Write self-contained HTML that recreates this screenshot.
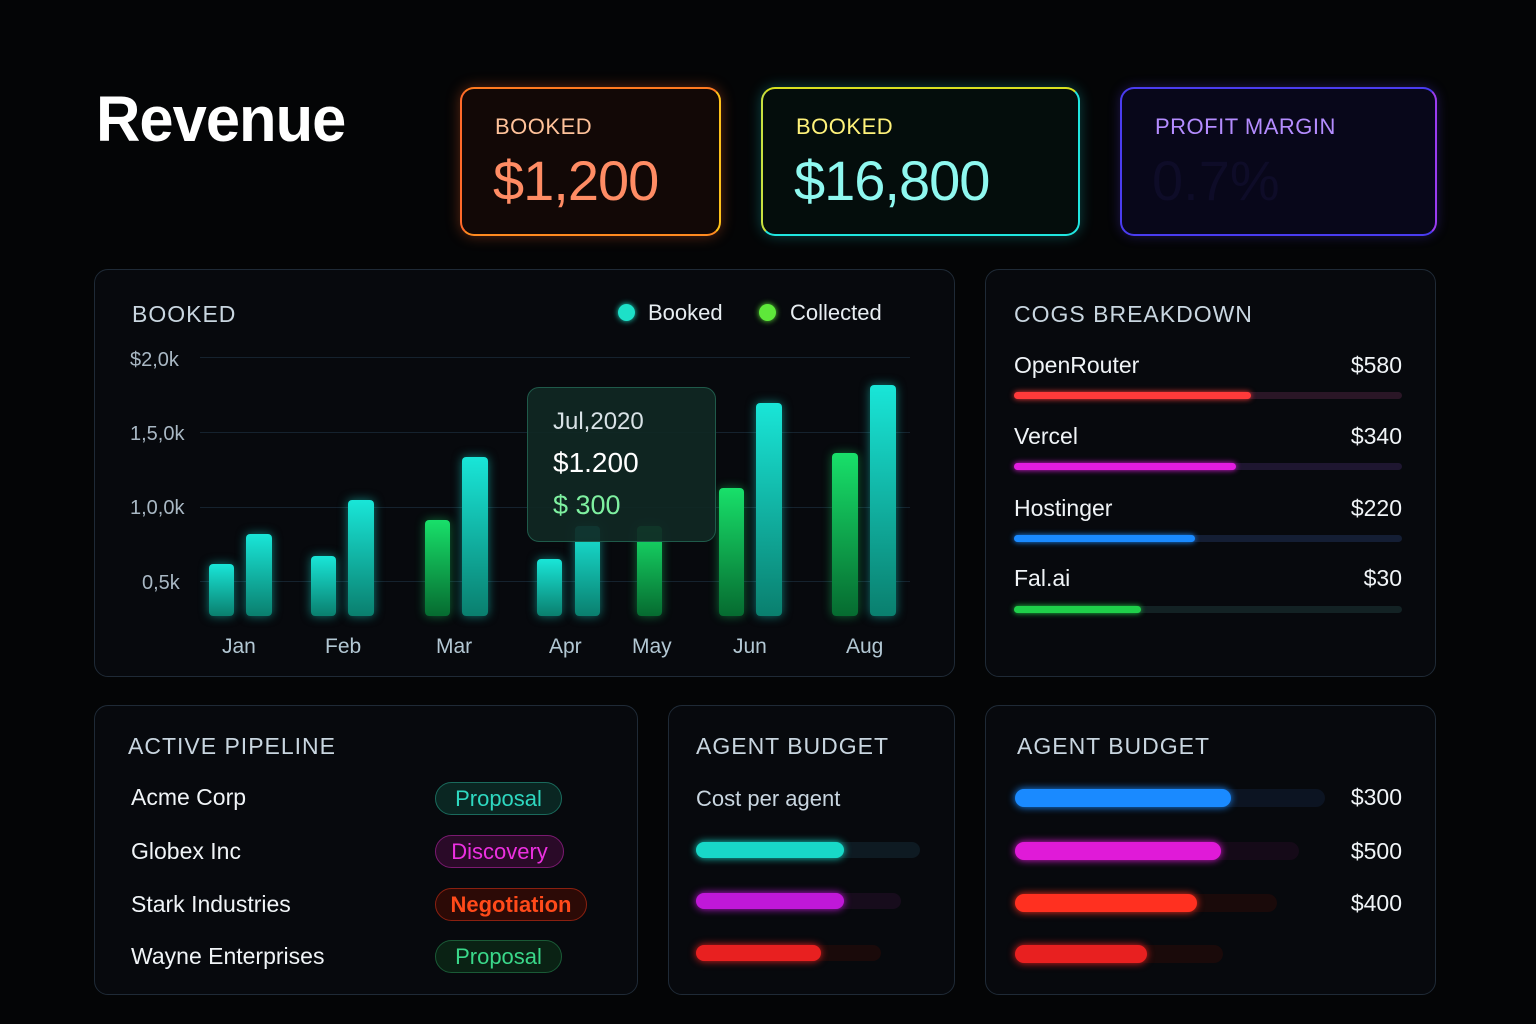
<!DOCTYPE html>
<html><head><meta charset="utf-8"><style>
*{margin:0;padding:0;box-sizing:border-box}
body{width:1536px;height:1024px;background:#040506;font-family:"Liberation Sans",sans-serif;position:relative;overflow:hidden;color:#e8eef2}
.a{position:absolute}
.panel{position:absolute;border:1.5px solid #1f2a36;border-radius:14px;background:#07090d}
.t{position:absolute;font-size:23px;letter-spacing:1px;color:#c9d6e0}
.bar{position:absolute;border-radius:4px;bottom:408px}
.cy{background:linear-gradient(#19e6d8,#0a7f6e);box-shadow:0 0 10px rgba(25,230,216,.5)}
.gr{background:linear-gradient(#18e06a,#066b30);box-shadow:0 0 10px rgba(24,224,106,.45)}
.grid{position:absolute;left:200px;width:710px;height:1px;background:#15222e}
.yl{position:absolute;left:130px;font-size:20px;color:#a9b8c4}
.xl{position:absolute;top:635px;font-size:21px;color:#b3c8d4}
.track{position:absolute;height:7px;border-radius:4px;background:#1a1a2e}
.fill{position:absolute;height:7px;border-radius:4px}
.row{position:absolute;font-size:23px;color:#f0f4f7}
.rv{position:absolute;font-size:23px;color:#f0f4f7;right:134px;text-align:right}
.pill{position:absolute;height:33px;border-radius:17px;font-size:22px;text-align:center;line-height:31px;border:1.5px solid}
</style></head><body>
<div class="a" style="left:96px;top:82px;font-size:64px;font-weight:bold;color:#fff;letter-spacing:-1px;transform:scaleX(.96);transform-origin:left">Revenue</div>

<div class="a" style="left:460px;top:87px;width:261px;height:149px;border-radius:14px;border:2px solid #ff6a2a;border-top-color:#ff7a20;border-right-color:#ffc21a;border-bottom-color:#ff8a20;background:#120806;box-shadow:0 0 14px rgba(255,100,40,.35)"></div>
<div class="a" style="left:495px;top:114px;font-size:22px;color:#ffc29a;letter-spacing:.5px">BOOKED</div>
<div class="a" style="left:493px;top:148px;font-size:56px;color:#ff8c64;letter-spacing:-1px">$1,200</div>

<div class="a" style="left:761px;top:87px;width:319px;height:149px;border-radius:14px;border:2px solid #20e6e0;border-top-color:#d8e020;border-left-color:#c8e040;background:#040d0c;box-shadow:0 0 14px rgba(30,220,220,.3)"></div>
<div class="a" style="left:796px;top:114px;font-size:22px;color:#fff27a;letter-spacing:.5px">BOOKED</div>
<div class="a" style="left:794px;top:148px;font-size:56px;color:#8ff8f0;letter-spacing:-1px">$16,800</div>

<div class="a" style="left:1120px;top:87px;width:317px;height:149px;border-radius:14px;border:2px solid #4a3cf0;border-right-color:#9a3cf0;background:#08071a;box-shadow:0 0 12px rgba(90,60,240,.3)"></div>
<div class="a" style="left:1155px;top:114px;font-size:22px;color:#b48cff;letter-spacing:.5px">PROFIT MARGIN</div>
<div class="a" style="left:1152px;top:148px;font-size:56px;color:#0e0c28">0.7%</div>

<div class="panel" style="left:94px;top:269px;width:861px;height:408px"></div>
<div class="t" style="left:132px;top:301px">BOOKED</div>
<div class="a" style="left:618px;top:304px;width:17px;height:17px;border-radius:50%;background:#1de0c8;box-shadow:0 0 6px #1de0c8"></div>
<div class="a" style="left:648px;top:300px;font-size:22px;color:#e8eef2">Booked</div>
<div class="a" style="left:759px;top:304px;width:17px;height:17px;border-radius:50%;background:#5ee83a;box-shadow:0 0 6px #5ee83a"></div>
<div class="a" style="left:790px;top:300px;font-size:22px;color:#e8eef2">Collected</div>
<div class="grid" style="top:357px"></div><div class="grid" style="top:432px"></div><div class="grid" style="top:507px"></div><div class="grid" style="top:581px"></div>
<div class="yl" style="top:349px">$2,0k</div><div class="yl" style="top:423px">1,5,0k</div><div class="yl" style="top:497px">1,0,0k</div><div class="yl" style="top:572px;left:142px">0,5k</div>
<div class="bar cy" style="left:209px;width:25px;height:52px"></div>
<div class="bar cy" style="left:246px;width:26px;height:82px"></div>
<div class="bar cy" style="left:311px;width:25px;height:60px"></div>
<div class="bar cy" style="left:348px;width:26px;height:116px"></div>
<div class="bar gr" style="left:425px;width:25px;height:96px"></div>
<div class="bar cy" style="left:462px;width:26px;height:159px"></div>
<div class="bar cy" style="left:537px;width:25px;height:57px"></div>
<div class="bar cy" style="left:575px;width:25px;height:90px"></div>
<div class="bar gr" style="left:637px;width:25px;height:90px"></div>
<div class="bar gr" style="left:719px;width:25px;height:128px"></div>
<div class="bar cy" style="left:756px;width:26px;height:213px"></div>
<div class="bar gr" style="left:832px;width:26px;height:163px"></div>
<div class="bar cy" style="left:870px;width:26px;height:231px"></div>
<div class="a" style="left:527px;top:387px;width:189px;height:155px;border-radius:12px;border:1.5px solid #1f5a4a;background:rgba(16,40,36,.93)"></div>
<div class="a" style="left:553px;top:408px;font-size:24px;color:#d8e2e6">Jul,2020</div>
<div class="a" style="left:553px;top:447px;font-size:28px;color:#fff">$1.200</div>
<div class="a" style="left:553px;top:490px;font-size:27px;color:#7ef0a0">$ 300</div>
<div class="xl" style="left:222px">Jan</div><div class="xl" style="left:325px">Feb</div><div class="xl" style="left:436px">Mar</div><div class="xl" style="left:549px">Apr</div><div class="xl" style="left:632px">May</div><div class="xl" style="left:733px">Jun</div><div class="xl" style="left:846px">Aug</div>

<div class="panel" style="left:985px;top:269px;width:451px;height:408px"></div>
<div class="t" style="left:1014px;top:301px">COGS BREAKDOWN</div>
<div class="row" style="left:1014px;top:352px">OpenRouter</div><div class="rv" style="top:352px">$580</div>
<div class="track" style="left:1014px;top:392px;width:388px;background:#2a1626"></div><div class="fill" style="left:1014px;top:392px;width:237px;background:#ff3a3a;box-shadow:0 0 6px #ff3a3a"></div>
<div class="row" style="left:1014px;top:423px">Vercel</div><div class="rv" style="top:423px">$340</div>
<div class="track" style="left:1014px;top:463px;width:388px;background:#1e1630"></div><div class="fill" style="left:1014px;top:463px;width:222px;background:#e21ce0;box-shadow:0 0 6px #e21ce0"></div>
<div class="row" style="left:1014px;top:495px">Hostinger</div><div class="rv" style="top:495px">$220</div>
<div class="track" style="left:1014px;top:535px;width:388px;background:#141e34"></div><div class="fill" style="left:1014px;top:535px;width:181px;background:#1a8aff;box-shadow:0 0 6px #1a8aff"></div>
<div class="row" style="left:1014px;top:565px">Fal.ai</div><div class="rv" style="top:565px">$30</div>
<div class="track" style="left:1014px;top:606px;width:388px;background:#132224"></div><div class="fill" style="left:1014px;top:606px;width:127px;background:#1fd04a;box-shadow:0 0 6px #1fd04a"></div>

<div class="panel" style="left:94px;top:705px;width:544px;height:290px"></div>
<div class="t" style="left:128px;top:733px">ACTIVE PIPELINE</div>
<div class="row" style="left:131px;top:784px">Acme Corp</div>
<div class="row" style="left:131px;top:838px">Globex Inc</div>
<div class="row" style="left:131px;top:891px">Stark Industries</div>
<div class="row" style="left:131px;top:943px">Wayne Enterprises</div>
<div class="pill" style="left:435px;top:782px;width:127px;color:#2ed8c0;border-color:#1a6a5c;background:#0a2622">Proposal</div>
<div class="pill" style="left:435px;top:835px;width:129px;color:#ec30e0;border-color:#7a1a70;background:#2a0a28">Discovery</div>
<div class="pill" style="left:435px;top:888px;width:152px;color:#ff4a1a;border-color:#8a2010;background:#2c0a06;font-weight:bold">Negotiation</div>
<div class="pill" style="left:435px;top:940px;width:127px;color:#3ad88a;border-color:#1a5a36;background:#0a2214">Proposal</div>

<div class="panel" style="left:668px;top:705px;width:287px;height:290px"></div>
<div class="t" style="left:696px;top:733px">AGENT BUDGET</div>
<div class="a" style="left:696px;top:786px;font-size:22px;color:#c9d6e0">Cost per agent</div>
<div class="track" style="left:696px;top:842px;width:224px;height:16px;border-radius:8px;background:#0e1a22"></div><div class="fill" style="left:696px;top:842px;width:148px;height:16px;border-radius:8px;background:#18d8c8;box-shadow:0 0 8px #18d8c8"></div>
<div class="track" style="left:696px;top:893px;width:205px;height:16px;border-radius:8px;background:#170c1c"></div><div class="fill" style="left:696px;top:893px;width:148px;height:16px;border-radius:8px;background:#c018d8;box-shadow:0 0 8px #c018d8"></div>
<div class="track" style="left:696px;top:945px;width:185px;height:16px;border-radius:8px;background:#1a0a0a"></div><div class="fill" style="left:696px;top:945px;width:125px;height:16px;border-radius:8px;background:#e82020;box-shadow:0 0 8px #e82020"></div>

<div class="panel" style="left:985px;top:705px;width:451px;height:290px"></div>
<div class="t" style="left:1017px;top:733px">AGENT BUDGET</div>
<div class="track" style="left:1015px;top:789px;width:310px;height:18px;border-radius:9px;background:#0c1422"></div><div class="fill" style="left:1015px;top:789px;width:216px;height:18px;border-radius:9px;background:#1a8aff;box-shadow:0 0 8px #1a8aff"></div>
<div class="rv" style="top:784px">$300</div>
<div class="track" style="left:1015px;top:842px;width:284px;height:18px;border-radius:9px;background:#150a18"></div><div class="fill" style="left:1015px;top:842px;width:206px;height:18px;border-radius:9px;background:#e01ad8;box-shadow:0 0 8px #e01ad8"></div>
<div class="rv" style="top:838px">$500</div>
<div class="track" style="left:1015px;top:894px;width:262px;height:18px;border-radius:9px;background:#1a0a0a"></div><div class="fill" style="left:1015px;top:894px;width:182px;height:18px;border-radius:9px;background:#ff3020;box-shadow:0 0 8px #ff3020"></div>
<div class="rv" style="top:890px">$400</div>
<div class="track" style="left:1015px;top:945px;width:208px;height:18px;border-radius:9px;background:#1a0a0a"></div><div class="fill" style="left:1015px;top:945px;width:132px;height:18px;border-radius:9px;background:#e82020;box-shadow:0 0 8px #e82020"></div>
</body></html>
